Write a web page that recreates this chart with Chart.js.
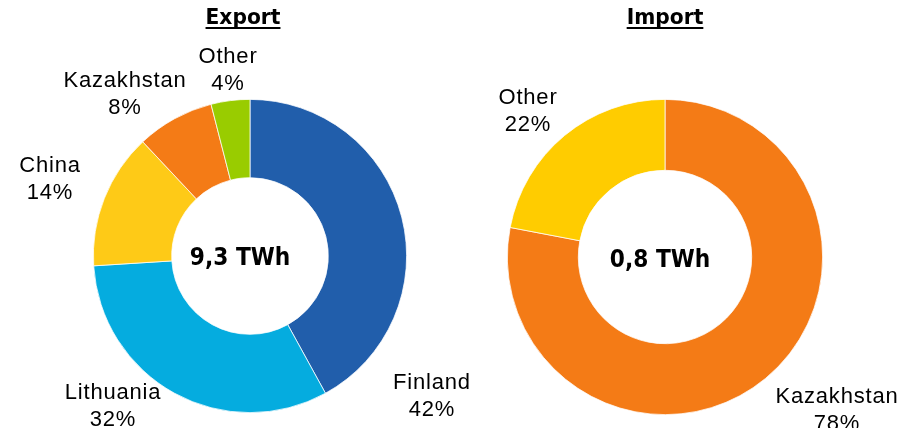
<!DOCTYPE html>
<html>
<head>
<meta charset="utf-8">
<script src="https://cdn.jsdelivr.net/npm/chart.js@4/dist/chart.umd.min.js"></script>
<style>
    html, body { margin: 0; padding: 0; background: #fff; }
    #wrap { position: relative; width: 912px; height: 428px; }
    #wrap canvas { position: absolute; left: 0; top: 0; }
</style>
</head>
<body>
<div id="wrap">
    <canvas id="exportChart" width="912" height="428"></canvas>
    <canvas id="importChart" width="912" height="428"></canvas>
</div>
<script>
const exportCountries = ["Finland", "Lithuania", "China", "Kazakhstan", "Other"];
const exportShares = [42, 32, 14, 8, 4];
const exportTotal = "9,3 TWh";

const importCountries = ["Kazakhstan", "Other"];
const importShares = [78, 22];
const importTotal = "0,8 TWh";

const exportColors = ["#215EAB", "#05ACDF", "#FECA17", "#F47B16", "#99CC00"];
const importColors = ["#F47B16", "#FFCC00"];

// text placement relative to the doughnut centre (x, baseline of first line)
const exportLabelOffsets = [[182, 133], [-137, 143], [-200, -84], [-125, -169], [-22, -193]];
const importLabelOffsets = [[172, 146], [-137, -153]];

// bold text in a narrower, taller cut than DejaVu gives by itself
function fillNarrow(ctx, text, x, y, sx) {
    ctx.save();
    ctx.translate(x, y);
    ctx.scale(sx, 1);
    ctx.fillText(text, 0, 0);
    ctx.restore();
    return ctx.measureText(text).width * sx;
}

const labelPlugin = {
    id: "sliceLabels",
    afterDatasetsDraw(chart, args, opts) {
        const ctx = chart.ctx;
        const arc = chart.getDatasetMeta(0).data[0];
        const cx = arc.x, cy = arc.y;
        const values = chart.data.datasets[0].data;
        const total = values.reduce((a, b) => a + b, 0);

        ctx.save();
        ctx.fillStyle = "#000";
        ctx.textAlign = "center";
        ctx.textBaseline = "alphabetic";

        ctx.font = '22px "Liberation Sans", Arial, sans-serif';
        ctx.letterSpacing = "0.8px";
        chart.data.labels.forEach((name, i) => {
            const [dx, dy] = opts.offsets[i];
            const pct = Math.round(values[i] / total * 100) + "%";
            ctx.fillText(name, cx + dx, cy + dy);
            ctx.fillText(pct, cx + dx, cy + dy + 27);
        });

        ctx.letterSpacing = "0px";
        ctx.font = 'bold 25px "DejaVu Sans", Verdana, sans-serif';
        fillNarrow(ctx, opts.center, cx + opts.centerShift[0], cy + opts.centerShift[1], 0.87);

        // underlined title
        ctx.font = 'bold 22px "DejaVu Sans", Verdana, sans-serif';
        const tx = cx + opts.titleShift;
        const w = fillNarrow(ctx, opts.title, tx, 24, 0.92);
        ctx.fillRect(tx - w / 2, 27, w, 2);
        ctx.restore();
    }
};

function makeDoughnut(id, labels, values, colors, cutout, padding, extra) {
    return new Chart(document.getElementById(id), {
        type: "doughnut",
        data: {
            labels,
            datasets: [{
                data: values,
                backgroundColor: colors,
                borderColor: "#ffffff",
                borderWidth: 0.75
            }]
        },
        options: {
            responsive: false,
            animation: false,
            cutout,
            layout: { padding },
            events: [],
            plugins: {
                legend: { display: false },
                tooltip: { enabled: false },
                sliceLabels: extra
            }
        },
        plugins: [labelPlugin]
    });
}

makeDoughnut("exportChart", exportCountries, exportShares, exportColors, "50%",
    { left: 93, right: 505, top: 99, bottom: 15 },
    { offsets: exportLabelOffsets, center: exportTotal, centerShift: [-10, 9], title: "Export", titleShift: -7 });

makeDoughnut("importChart", importCountries, importShares, importColors, "55%",
    { left: 507, right: 89, top: 99, bottom: 13 },
    { offsets: importLabelOffsets, center: importTotal, centerShift: [-5, 10], title: "Import", titleShift: 0 });
</script>
</body>
</html>
